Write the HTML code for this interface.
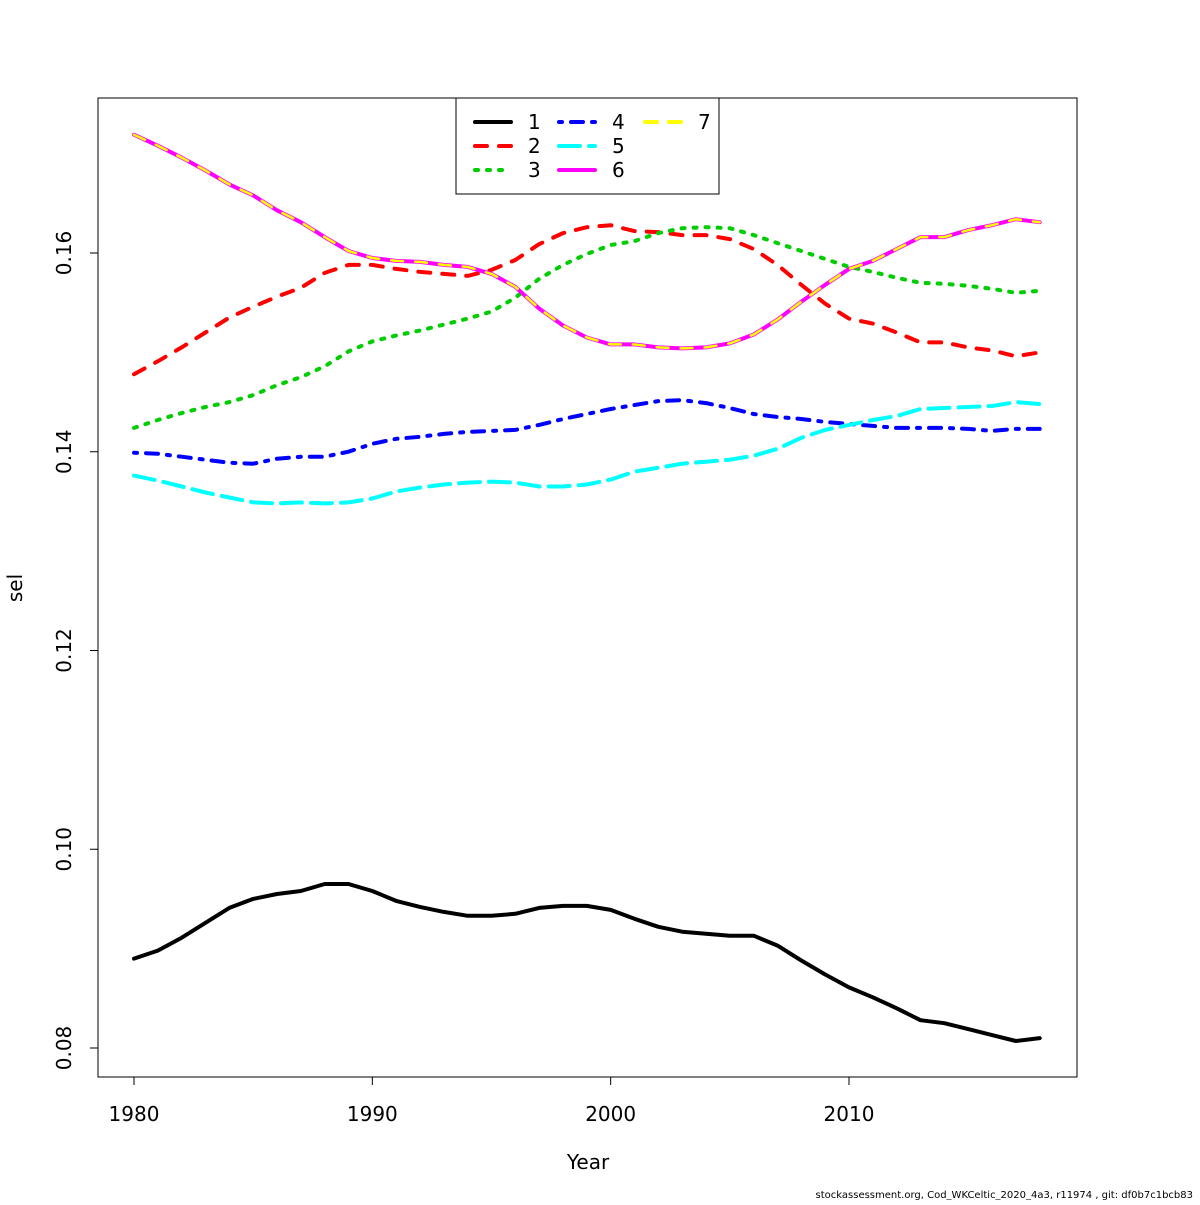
<!DOCTYPE html>
<html><head><meta charset="utf-8"><style>
html,body{margin:0;padding:0;background:#fff;}
svg text{font-family:"DejaVu Sans","Liberation Sans",sans-serif;fill:#000;}
</style></head><body>
<svg id="chart" width="1200" height="1200" viewBox="0 0 1200 1200" xmlns="http://www.w3.org/2000/svg">
<rect x="98" y="98" width="979" height="979" fill="none" stroke="#000" stroke-width="1"/>
<g id="axes"></g>
<g id="series" stroke-linecap="round" stroke-linejoin="round" fill="none"></g>
<g id="legend"></g>
<text x="588" y="1169" font-size="20" text-anchor="middle">Year</text>
<text x="22" y="588" font-size="20" text-anchor="middle" transform="rotate(-90 22 588)">sel</text>
<text x="1193" y="1198" font-size="10" text-anchor="end">stockassessment.org, Cod_WKCeltic_2020_4a3, r11974 , git: df0b7c1bcb83</text>
</svg>
<script>
const years = [1980,1981,1982,1983,1984,1985,1986,1987,1988,1989,1990,1991,1992,1993,1994,1995,1996,1997,1998,1999,2000,2001,2002,2003,2004,2005,2006,2007,2008,2009,2010,2011,2012,2013,2014,2015,2016,2017,2018];
const sel1 = [0.0890,0.0898,0.0911,0.0926,0.0941,0.0950,0.0955,0.0958,0.0965,0.0965,0.0958,0.0948,0.0942,0.0937,0.0933,0.0933,0.0935,0.0941,0.0943,0.0943,0.0939,0.0930,0.0922,0.0917,0.0915,0.0913,0.0913,0.0903,0.0888,0.0874,0.0861,0.0851,0.0840,0.0828,0.0825,0.0819,0.0813,0.0807,0.0810];
const sel2 = [0.1478,0.1491,0.1505,0.1520,0.1535,0.1546,0.1556,0.1565,0.1580,0.1588,0.1588,0.1584,0.1581,0.1579,0.1577,0.1583,0.1593,0.1609,0.1620,0.1626,0.1628,0.1622,0.1621,0.1618,0.1618,0.1614,0.1604,0.1588,0.1568,0.1549,0.1534,0.1529,0.1520,0.1510,0.1510,0.1505,0.1502,0.1496,0.1500];
const sel3 = [0.1424,0.1432,0.1439,0.1445,0.1450,0.1457,0.1467,0.1475,0.1486,0.1501,0.1511,0.1517,0.1522,0.1528,0.1534,0.1541,0.1555,0.1574,0.1588,0.1599,0.1608,0.1612,0.1620,0.1625,0.1626,0.1625,0.1618,0.1610,0.1602,0.1594,0.1586,0.1581,0.1575,0.1570,0.1569,0.1567,0.1564,0.1560,0.1562];
const sel4 = [0.1399,0.1398,0.1395,0.1392,0.1389,0.1388,0.1393,0.1395,0.1395,0.1400,0.1408,0.1413,0.1415,0.1418,0.1420,0.1421,0.1422,0.1427,0.1433,0.1438,0.1443,0.1447,0.1451,0.1452,0.1449,0.1444,0.1438,0.1435,0.1433,0.1430,0.1428,0.1426,0.1424,0.1424,0.1424,0.1423,0.1421,0.1423,0.1423];
const sel5 = [0.1376,0.1371,0.1365,0.1359,0.1354,0.1349,0.1348,0.1349,0.1348,0.1349,0.1353,0.1360,0.1364,0.1367,0.1369,0.1370,0.1369,0.1365,0.1365,0.1367,0.1372,0.1380,0.1384,0.1388,0.1390,0.1392,0.1396,0.1403,0.1414,0.1422,0.1427,0.1432,0.1436,0.1443,0.1444,0.1445,0.1446,0.1450,0.1448];
const sel6 = [0.1719,0.1708,0.1696,0.1683,0.1669,0.1658,0.1643,0.1631,0.1616,0.1602,0.1595,0.1592,0.1591,0.1588,0.1586,0.1579,0.1566,0.1544,0.1527,0.1515,0.1508,0.1508,0.1505,0.1504,0.1505,0.1509,0.1518,0.1533,0.1551,0.1568,0.1584,0.1592,0.1604,0.1616,0.1616,0.1623,0.1628,0.1634,0.1631];
const sel7 = [0.1719,0.1708,0.1696,0.1683,0.1669,0.1658,0.1643,0.1631,0.1616,0.1602,0.1595,0.1592,0.1591,0.1588,0.1586,0.1579,0.1566,0.1544,0.1527,0.1515,0.1508,0.1508,0.1505,0.1504,0.1505,0.1509,0.1518,0.1533,0.1551,0.1568,0.1584,0.1592,0.1604,0.1616,0.1616,0.1623,0.1628,0.1634,0.1631];
const xTicks = [1980,1990,2000,2010];
const yTicks = [0.08,0.10,0.12,0.14,0.16];
const yTickLabels = ["0.08","0.10","0.12","0.14","0.16"];
const seriesNames = ["1","2","3","4","5","6","7"];

const NS = "http://www.w3.org/2000/svg";
function xs(v){ return 134 + (v-1980)*(849-134)/30; }
function ys(v){ return 1048 - (v-0.08)*(1048-253)/0.08; }
function mk(tag, attrs, parent){ const e=document.createElementNS(NS,tag); for(const k in attrs) e.setAttribute(k,attrs[k]); parent.appendChild(e); return e; }

const axes = document.getElementById('axes');
const xAxis = mk('g',{},axes);


mk('line',{x1:xs(1980),x2:xs(2010),y1:1077,y2:1077,stroke:'#000'},xAxis);
xTicks.forEach(t=>{
  const l = mk('line',{x1:xs(t),x2:xs(t),y1:1077,y2:1085,stroke:'#000'},xAxis);
  
  
  const tx = mk('text',{x:xs(t),y:1121,'font-size':20,'text-anchor':'middle'},xAxis);
  tx.textContent = String(t);
  
  
});
const yAxis = mk('g',{},axes);


mk('line',{x1:98,x2:98,y1:ys(0.08),y2:ys(0.16),stroke:'#000'},yAxis);
yTicks.forEach((t,i)=>{
  const y = ys(t);
  const l = mk('line',{x1:90,x2:98,y1:y,y2:y,stroke:'#000'},yAxis);
  
  
  const tx = mk('text',{x:71,y:y,'font-size':20,'text-anchor':'middle',transform:'rotate(-90 71 '+y+')'},yAxis);
  tx.textContent = yTickLabels[i];
  
  
});

const styles = [
  {c:'#000000',d:'',w:4},
  {c:'#ff0000',d:'12 12',w:4},
  {c:'#00cd00',d:'3 9',w:4},
  {c:'#0000ff',d:'3 9 12 9',w:4},
  {c:'#00ffff',d:'21 9',w:4},
  {c:'#ff00ff',d:'',w:4},
  {c:'#ffff00',d:'12 12',w:2.5}
];
const allSeries = [sel1,sel2,sel3,sel4,sel5,sel6,sel7];
const sg = document.getElementById('series');
allSeries.forEach((s,i)=>{
  const pts = s.map((v,j)=>xs(years[j]).toFixed(1)+','+ys(v).toFixed(1)).join(' ');
  const p = mk('polyline',{points:pts,stroke:styles[i].c,'stroke-width':styles[i].w},sg);
  if(styles[i].d) p.setAttribute('stroke-dasharray',styles[i].d);
  
  
});

const lg = document.getElementById('legend');


mk('rect',{x:456,y:98,width:263,height:96,fill:'#fff',stroke:'#000'},lg);
const colX = [473,557,643], rowY = [122,146,170];
seriesNames.forEach((n,i)=>{
  const c = Math.floor(i/3), r = i%3;
  const g = mk('g',{},lg);
  
  
  const l = mk('line',{x1:colX[c]+2,x2:colX[c]+38,y1:rowY[r],y2:rowY[r],stroke:styles[i].c,'stroke-width':4,'stroke-linecap':'round'},g);
  if(styles[i].d) l.setAttribute('stroke-dasharray',styles[i].d);
  const t = mk('text',{x:colX[c]+55,y:rowY[r]+7,'font-size':20},g);
  t.textContent = n;
});
</script>
</body></html>
